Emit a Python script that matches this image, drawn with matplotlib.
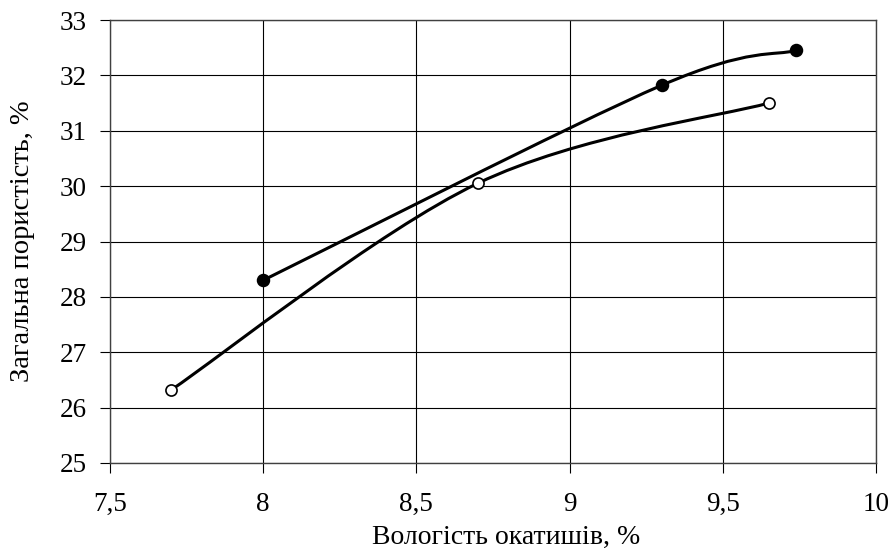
import matplotlib
matplotlib.use('Agg')
import matplotlib.pyplot as plt
from matplotlib.path import Path
from matplotlib.patches import PathPatch
from matplotlib.ticker import FuncFormatter
import numpy as np

# data
x_filled = [8.0, 9.3, 9.74]
y_filled = [28.3, 31.82, 32.45]
x_open = [7.7, 8.7, 9.65]
y_open = [26.32, 30.05, 31.5]

x_ticks = [7.5, 8, 8.5, 9, 9.5, 10]
y_ticks = [25, 26, 27, 28, 29, 30, 31, 32, 33]

plt.rcParams['font.family'] = ['Liberation Serif', 'DejaVu Serif']


def smooth_path(xs, ys):
    # Catmull-Rom style bezier, like Excel's smoothed line
    pts = np.column_stack([xs, ys])
    n = len(pts)
    verts = [pts[0]]
    codes = [Path.MOVETO]
    for i in range(n - 1):
        p0 = pts[i - 1] if i > 0 else pts[i]
        p1 = pts[i]
        p2 = pts[i + 1]
        p3 = pts[i + 2] if i + 2 < n else pts[i + 1]
        c1 = p1 + (p2 - p0) / 6
        c2 = p2 - (p3 - p1) / 6
        verts += [c1, c2, p2]
        codes += [Path.CURVE4] * 3
    return Path(verts, codes)


fig = plt.figure(figsize=(8.93, 5.52), dpi=100)
ax = fig.add_axes([110 / 893, 1 - 463 / 552, 766 / 893, 443 / 552])

for xs, ys, fc, ms in [(x_filled, y_filled, 'black', 8.5),
                       (x_open, y_open, 'white', 8)]:
    ax.add_patch(PathPatch(smooth_path(xs, ys), fill=False, lw=2.2,
                           ec='black', zorder=3))
    ax.plot(xs, ys, ls='none', marker='o', ms=ms, mfc=fc, mec='black',
            mew=1.2, zorder=4)

ax.set_xlim(7.5, 10)
ax.set_ylim(25, 33)
ax.set_xticks(x_ticks)
ax.set_yticks(y_ticks)
comma = FuncFormatter(lambda v, p: f'{v:g}'.replace('.', ','))
ax.xaxis.set_major_formatter(comma)
ax.yaxis.set_major_formatter(comma)
ax.tick_params(direction='out', length=7, width=0.8, labelsize=19.5,
               colors='black')
ax.tick_params(axis='x', pad=14)
ax.tick_params(axis='y', pad=10)
ax.grid(True, color='black', lw=0.8)
for s in ax.spines.values():
    s.set_color('#404040')
    s.set_linewidth(1.0)

ax.set_xlabel('Вологість окатишів, %', fontsize=20)
ax.set_ylabel('Загальна пористість, %', fontsize=20.5)
ax.xaxis.set_label_coords(0.517, -0.140)
ax.yaxis.set_label_coords(-0.098, 0.5)

fig.savefig('out.png', dpi=100)
